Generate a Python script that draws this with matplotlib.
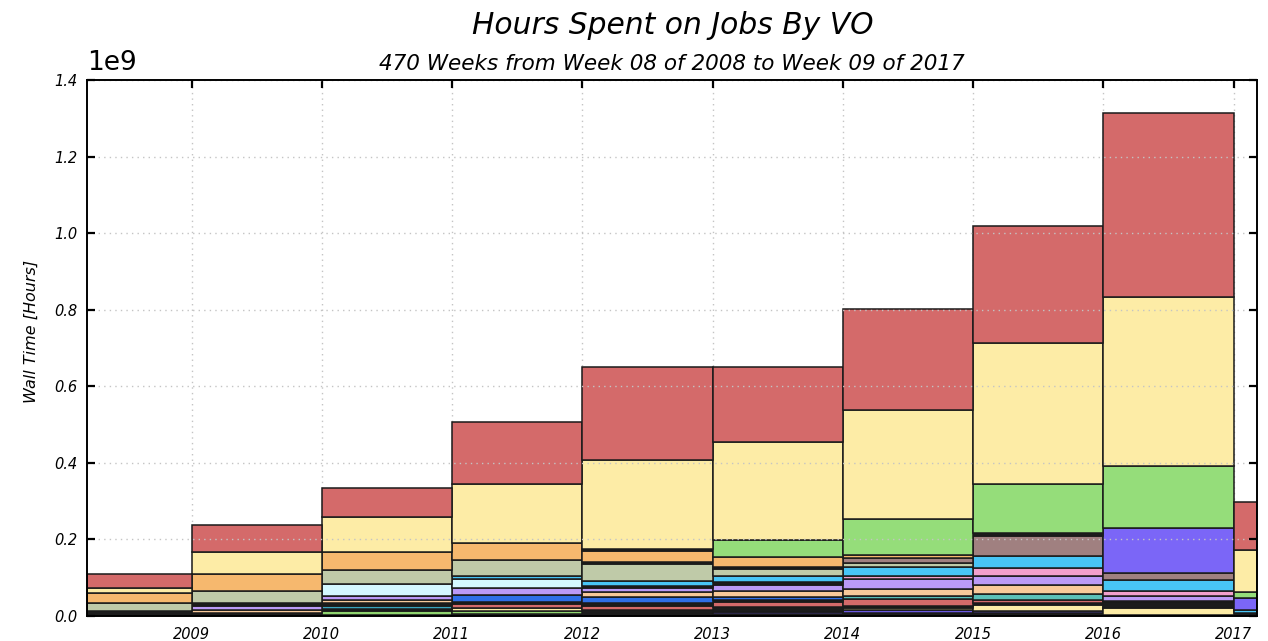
"""Stacked yearly wall time per VO, redrawn from the accounting plot."""

from datetime import date

import matplotlib

matplotlib.use("Agg")
import matplotlib.dates as mdates
import matplotlib.pyplot as plt
import numpy as np

TITLE = "Hours Spent on Jobs By VO"
SUBTITLE = "470 Weeks from Week 08 of 2008 to Week 09 of 2017"
YLABEL = "Wall Time [Hours]"

# one bar per period; the first and last periods are partial years
period_starts = [
    date(2008, 3, 14), date(2009, 1, 1), date(2010, 1, 1), date(2011, 1, 1),
    date(2012, 1, 1), date(2013, 1, 1), date(2014, 1, 1), date(2015, 1, 1),
    date(2016, 1, 1), date(2017, 1, 1),
]
period_end = date(2017, 3, 7)
year_ticks = [date(y, 1, 1) for y in range(2009, 2018)]
year_labels = [str(y) for y in range(2009, 2018)]

# wall hours per VO, in units of 1e9 hours, stacked bottom -> top
#                 2008    2009   2010    2011    2012    2013    2014    2015    2016    2017
black_base =   [0.012, 0.008, 0.003, 0.004, 0.0157, 0.0065, 0.009, 0.009, 0.0026, 0.009]
green_small =  [0, 0, 0.010, 0.008, 0, 0, 0, 0, 0, 0]
purple_base =  [0, 0, 0, 0, 0, 0.005, 0.0065, 0.005, 0, 0]
yellow_small = [0, 0, 0, 0.010, 0, 0, 0.005, 0.0157, 0.017, 0]
black_low =    [0, 0, 0.004, 0, 0, 0.013, 0.0065, 0.004, 0.0157, 0]
teal_small =   [0, 0, 0.008, 0, 0, 0, 0, 0, 0, 0]
red_small =    [0, 0, 0, 0.009, 0.0105, 0.013, 0.017, 0.009, 0, 0]
black_mid =    [0, 0, 0.008, 0.0065, 0.0065, 0.004, 0, 0, 0, 0]
teal =         [0, 0, 0, 0, 0, 0, 0.008, 0.0157, 0, 0]
blue =         [0, 0, 0, 0.018, 0.018, 0.008, 0, 0, 0, 0]
peach =        [0, 0.008, 0.008, 0, 0.013, 0.0157, 0.0196, 0.0235, 0.005, 0]
lavender =     [0, 0.009, 0.012, 0.017, 0.009, 0.017, 0.0248, 0.022, 0.012, 0]
black_hi =     [0, 0.010, 0, 0, 0.0065, 0.0065, 0, 0, 0, 0]
pink =         [0, 0, 0, 0, 0, 0, 0.008, 0.022, 0.012, 0]
light_cyan =   [0, 0, 0.030, 0.0235, 0, 0, 0, 0, 0, 0]
sky_blue =     [0, 0, 0, 0.009, 0.012, 0.0157, 0.0235, 0.0313, 0.031, 0.0065]
sage =         [0.022, 0.029, 0.037, 0.0405, 0.044, 0.0196, 0.0118, 0, 0, 0]
dark_band =    [0, 0, 0, 0, 0.005, 0.005, 0, 0, 0, 0]
brown =        [0, 0, 0, 0, 0, 0, 0.013, 0.051, 0.018, 0]
purple =       [0, 0, 0, 0, 0, 0, 0, 0, 0.1175, 0.0327]
orange =       [0.026, 0.047, 0.047, 0.044, 0.030, 0.025, 0.0065, 0, 0, 0]
black_top =    [0, 0, 0, 0, 0.005, 0, 0, 0.008, 0, 0]
green =        [0, 0, 0, 0, 0, 0.0444, 0.0953, 0.128, 0.162, 0.0144]
yellow =       [0.013, 0.057, 0.091, 0.154, 0.2325, 0.257, 0.2847, 0.368, 0.440, 0.1097]
red =          [0.037, 0.069, 0.077, 0.162, 0.2415, 0.1946, 0.2625, 0.3056, 0.4806, 0.125]

LAYERS = [
    (black_base, "#1c1c1c"),
    (green_small, "#8fd46f"),
    (purple_base, "#6a58e0"),
    (yellow_small, "#fdeca6"),
    (black_low, "#1c1c1c"),
    (teal_small, "#3aa4bd"),
    (red_small, "#d46a6a"),
    (black_mid, "#1c1c1c"),
    (teal, "#5bbfb8"),
    (blue, "#2e6fe8"),
    (peach, "#f8c99a"),
    (lavender, "#bb9af7"),
    (black_hi, "#1c1c1c"),
    (pink, "#f2a0cc"),
    (light_cyan, "#d4f8ff"),
    (sky_blue, "#48c5f6"),
    (sage, "#bfcaa8"),
    (dark_band, "#1c1c1c"),
    (brown, "#a08080"),
    (purple, "#7b66f7"),
    (orange, "#f6b86e"),
    (black_top, "#1c1c1c"),
    (green, "#95dd7a"),
    (yellow, "#fdeca6"),
    (red, "#d46a6a"),
]


def draw(ax):
    starts = mdates.date2num(period_starts)
    edges = np.append(starts, mdates.date2num(period_end))
    widths = np.diff(edges)
    bottom = np.zeros(len(starts))
    for values, color in LAYERS:
        heights = np.asarray(values, dtype=float) * 1e9
        keep = heights > 0
        ax.bar(
            starts[keep], heights[keep], width=widths[keep], bottom=bottom[keep],
            align="edge", color=color, edgecolor="#1a1a1a", linewidth=1.1,
            zorder=2,
        )
        bottom += heights

    ax.set_xlim(edges[0], edges[-1])
    ax.set_ylim(0, 1.4e9)
    ax.set_xticks(mdates.date2num(year_ticks))
    ax.set_xticklabels(year_labels)
    ax.set_yticks(np.arange(0, 1.41e9, 0.2e9))
    ax.grid(True, color="#c4c4c4", linestyle=(0, (1, 3)), linewidth=1.0)
    # vertical grid sits on the bar edges, so keep it behind the bars
    ax.xaxis.set_zorder(1)
    ax.yaxis.set_zorder(3)
    ax.tick_params(direction="in", top=True, right=True, length=6, width=1.6,
                   labelsize=10.5)
    ax.tick_params(axis="x", pad=8)
    ax.tick_params(axis="y", pad=7)
    for spine in ax.spines.values():
        spine.set_linewidth(1.4)
        spine.set_zorder(5)
    ax.set_ylabel(YLABEL, fontsize=11.5)
    ax.yaxis.set_label_coords(-0.041, 0.53)
    offset = ax.yaxis.get_offset_text()
    offset.set_fontstyle("normal")
    offset.set_fontsize(19)
    ax.yaxis.OFFSETTEXTPAD = 7.5


def main() -> None:
    plt.rcParams["font.family"] = "DejaVu Sans"
    plt.rcParams["font.style"] = "italic"
    fig = plt.figure(figsize=(12.68, 6.41), dpi=100)
    ax = fig.add_axes([87 / 1268, 25 / 641, 1170 / 1268, 536 / 641])
    draw(ax)
    fig.text(673 / 1268, 1 - 25 / 641, TITLE, ha="center", va="center",
             fontsize=21.4)
    fig.text(672 / 1268, 1 - 64 / 641, SUBTITLE, ha="center", va="center",
             fontsize=15.5)
    fig.savefig("out.png", dpi=100)
    plt.close(fig)


if __name__ == "__main__":
    main()
